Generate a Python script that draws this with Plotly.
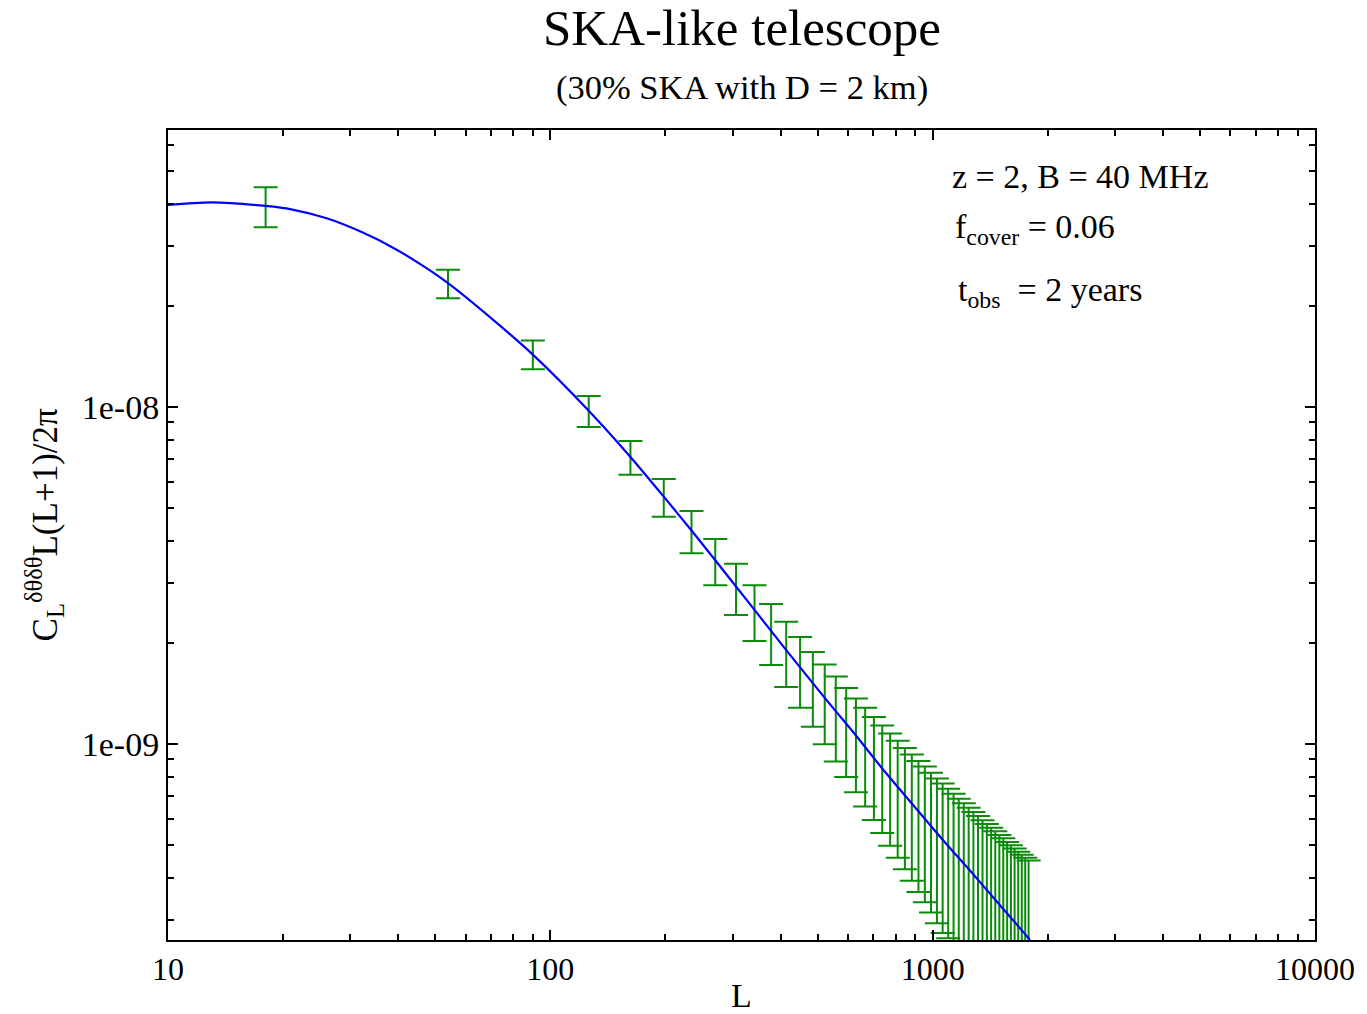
import plotly.graph_objects as go

# ---- data ----
curve_L = [10, 13, 18, 21, 26, 32, 39, 47, 54, 71, 90, 126, 162, 198, 234, 270, 342, 414,
           522, 630, 738, 882, 1062, 1278, 1494, 1782, 1800]
curve_C = [3.98e-8, 4.05e-8, 3.95e-8, 3.86e-8, 3.63e-8, 3.31e-8, 2.96e-8, 2.60e-8, 2.33e-8,
           1.81e-8, 1.43e-8, 9.75e-9, 7.11e-9, 5.42e-9, 4.30e-9, 3.51e-9, 2.50e-9, 1.90e-9,
           1.37e-9, 1.06e-9, 8.46e-10, 6.66e-10, 5.20e-10, 4.10e-10, 3.34e-10,
           2.65e-10, 2.60e-10]

bin_L = [18, 54, 90, 126, 162, 198, 234, 270, 306, 342, 378, 414, 450, 486, 522,
         558, 594, 630, 666, 702, 738, 774, 810, 846, 882, 918, 954, 990, 1026,
         1062, 1098, 1134, 1170, 1206, 1242, 1278, 1314, 1350, 1386, 1422, 1458,
         1494, 1530, 1566, 1602, 1638, 1674, 1710, 1746, 1782]
bin_C = [3.950e-8, 2.328e-8, 1.434e-8, 9.75e-9, 7.11e-9, 5.42e-9, 4.30e-9, 3.51e-9,
         2.92e-9, 2.49e-9, 2.16e-9, 1.89e-9, 1.68e-9, 1.50e-9, 1.36e-9, 1.236e-9,
         1.132e-9, 1.042e-9, 9.66e-10, 8.99e-10, 8.39e-10, 7.87e-10, 7.41e-10,
         6.99e-10, 6.62e-10, 6.27e-10, 5.98e-10, 5.69e-10, 5.42e-10, 5.19e-10,
         5.01e-10, 4.80e-10, 4.60e-10, 4.42e-10, 4.26e-10, 4.10e-10, 3.95e-10,
         3.82e-10, 3.69e-10, 3.56e-10, 3.45e-10, 3.34e-10, 3.24e-10, 3.14e-10,
         3.05e-10, 2.96e-10, 2.88e-10, 2.80e-10, 2.72e-10, 2.65e-10]
bin_err = [5.36e-9, 2.27e-9, 1.40e-9, 1.03e-9, 8.2e-10, 6.94e-10, 6.17e-10, 5.50e-10,
           5.05e-10, 4.70e-10, 4.44e-10, 4.15e-10, 3.98e-10, 3.75e-10, 3.61e-10,
           3.49e-10, 3.34e-10, 3.23e-10, 3.14e-10, 3.04e-10, 2.95e-10, 2.88e-10,
           2.81e-10, 2.74e-10, 2.69e-10, 2.63e-10, 2.59e-10, 2.53e-10, 2.48e-10,
           2.44e-10, 2.36e-10, 2.32e-10, 2.28e-10, 2.25e-10, 2.21e-10, 2.18e-10,
           2.16e-10, 2.12e-10, 2.10e-10, 2.08e-10, 2.06e-10, 2.03e-10, 2.01e-10,
           1.98e-10, 1.96e-10, 1.94e-10, 1.91e-10, 1.89e-10, 1.88e-10, 1.86e-10]

x_tickvals = [10, 100, 1000, 10000]
x_ticktext = ["10", "100", "1000", "10000"]
y_tickvals = [1e-9, 1e-8]
y_ticktext = ["1e-09", "1e-08"]

FONT = "Liberation Serif, Times New Roman, serif"
GREEN = "#0a8c0a"

fig = go.Figure()
fig.add_trace(go.Scatter(
    x=bin_L, y=bin_C, mode="markers",
    marker=dict(size=1, color="rgba(0,0,0,0)"),
    error_y=dict(type="data", array=bin_err, visible=True, color=GREEN,
                 thickness=2, width=12),
    showlegend=False, hoverinfo="skip"))
fig.add_trace(go.Scatter(
    x=curve_L, y=curve_C, mode="lines",
    line=dict(color="#0000ff", width=2.2, shape="spline", smoothing=0.8),
    showlegend=False))

x_minor = [m * 10 ** e for e in range(1, 4) for m in range(2, 10)]
y_minor = [m * 10.0 ** e for e in range(-10, -7) for m in range(2, 10)]

axis_common = dict(showgrid=False, zeroline=False, showline=True, linecolor="black",
                   linewidth=2, mirror="allticks", ticks="inside", ticklen=10,
                   tickwidth=1.5, tickcolor="black")

fig.update_xaxes(type="log", range=[1, 4], tickmode="array", tickvals=x_tickvals,
                 ticktext=x_ticktext,
                 tickfont=dict(family=FONT, size=32, color="black"),
                 minor=dict(tickmode="array", tickvals=x_minor, ticks="inside",
                            ticklen=6, tickwidth=1.5, tickcolor="black", showgrid=False),
                 **axis_common)
fig.update_yaxes(type="log", range=[-9.5816, -7.178], tickmode="array",
                 tickvals=y_tickvals, ticktext=y_ticktext,
                 tickfont=dict(family=FONT, size=34, color="black"),
                 minor=dict(tickmode="array", tickvals=y_minor, ticks="inside",
                            ticklen=6, tickwidth=1.5, tickcolor="black", showgrid=False),
                 **axis_common)

ann_font = dict(family=FONT, size=34, color="black")
annotations = [
    dict(text="SKA-like telescope", x=0.5, y=1.1255, font=dict(family=FONT, size=51, color="black")),
    dict(text="(30% SKA with D = 2 km)", x=0.5, y=1.052, font=dict(family=FONT, size=34.5, color="black")),
    dict(text="L", x=0.5, y=-0.068, font=ann_font),
    dict(text="C<sub>L</sub><sup>δθδθ</sup>L(L+1)/2π", x=-0.108, y=0.512, textangle=-90,
         font=dict(family=FONT, size=35, color="black")),
    dict(text="z = 2, B = 40 MHz", x=0.682, y=0.943, xanchor="left", font=ann_font),
    dict(text="f<sub>cover</sub> = 0.06", x=0.684, y=0.878, xanchor="left", font=ann_font),
    dict(text="t<sub>obs</sub>  = 2 years", x=0.687, y=0.80, xanchor="left", font=ann_font),
]
for a in annotations:
    a.setdefault("xanchor", "center")
    a.update(xref="paper", yref="paper", showarrow=False, yanchor="middle")
    fig.add_annotation(**a)

fig.update_layout(width=1367, height=1014, margin=dict(l=168, r=50, t=130, b=74),
                  plot_bgcolor="white", paper_bgcolor="white",
                  font=dict(family=FONT, color="black"))

fig.write_html("out.html")
